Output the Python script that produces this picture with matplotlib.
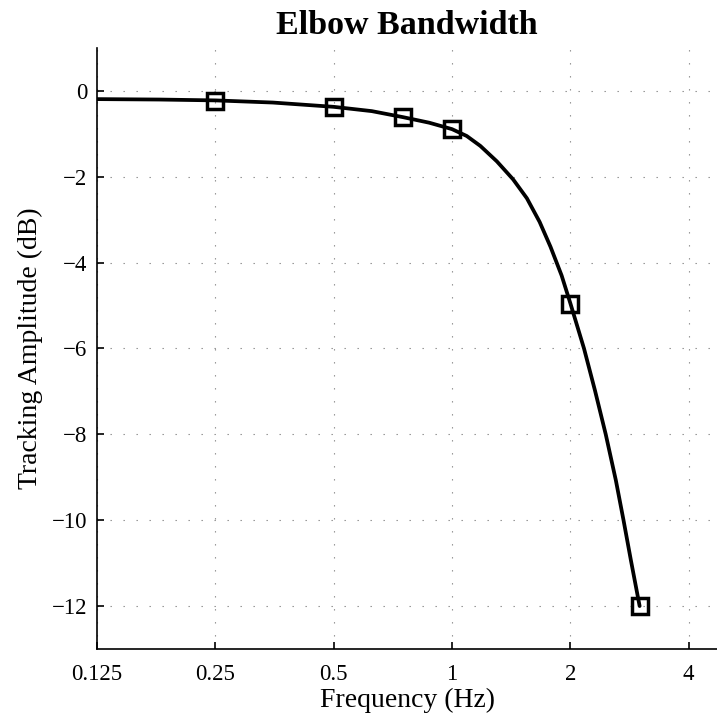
import matplotlib
matplotlib.use("Agg")
import matplotlib.pyplot as plt

# --- Data -------------------------------------------------------------------

# measured points (square markers)
freq_meas = [0.25, 0.5, 0.75, 1.0, 2.0, 3.0]
amp_meas = [-0.23, -0.38, -0.61, -0.88, -4.96, -12.0]

# fitted curve
freq_fit = [0.125, 0.18, 0.25, 0.35, 0.5, 0.625, 0.75, 0.875, 1.0, 1.09,
            1.18, 1.30, 1.43, 1.55, 1.67, 1.78, 1.90, 2.0, 2.166, 2.31,
            2.46, 2.61, 2.73, 2.85, 3.0]
amp_fit = [-0.19, -0.20, -0.22, -0.27, -0.37, -0.47, -0.61, -0.74, -0.89, -1.05,
           -1.28, -1.64, -2.06, -2.50, -3.05, -3.63, -4.30, -4.95, -6.0, -6.98,
           -8.0, -9.07, -10.0, -10.93, -12.0]

xticks = [0.125, 0.25, 0.5, 1, 2, 4]
xtick_labels = ["0.125", "0.25", "0.5", "1", "2", "4"]
yticks = [0, -2, -4, -6, -8, -10, -12]

# --- Plot -------------------------------------------------------------------

plt.rcParams["font.family"] = ["Liberation Serif", "DejaVu Serif"]

fig = plt.figure(figsize=(7.17, 7.19), dpi=100)
ax = fig.add_axes([0.1353, 0.0974, 0.8647, 0.8358])

ax.plot(freq_fit, amp_fit, color="black", linewidth=2.7,
        solid_joinstyle="round", solid_capstyle="round")
ax.plot(freq_meas, amp_meas, linestyle="none", marker="s", markersize=12,
        markerfacecolor="none", markeredgecolor="black", markeredgewidth=2.5)

ax.set_xscale("log", base=2)
ax.set_xlim(0.125, 4.72)
ax.set_ylim(-13, 1)
ax.set_xticks(xticks)
ax.set_xticklabels(xtick_labels)
ax.minorticks_off()
ax.set_yticks(yticks)

ax.grid(True, color="#888888", linewidth=0.8, linestyle=(0, (1.2, 10.5)))
ax.set_axisbelow(True)

for side in ("top", "right"):
    ax.spines[side].set_visible(False)
for side in ("left", "bottom"):
    ax.spines[side].set_linewidth(1.2)
ax.tick_params(direction="in", length=5, width=1.2, labelsize=16.5)
ax.tick_params(axis="x", pad=11)
ax.tick_params(axis="y", pad=7)

ax.set_title("Elbow Bandwidth", fontsize=24.5, fontweight="bold", pad=10)
ax.set_xlabel("Frequency (Hz)", fontsize=20, labelpad=2)
ax.set_ylabel("Tracking Amplitude (dB)", fontsize=20, labelpad=6)

fig.savefig("out.png", dpi=100)
